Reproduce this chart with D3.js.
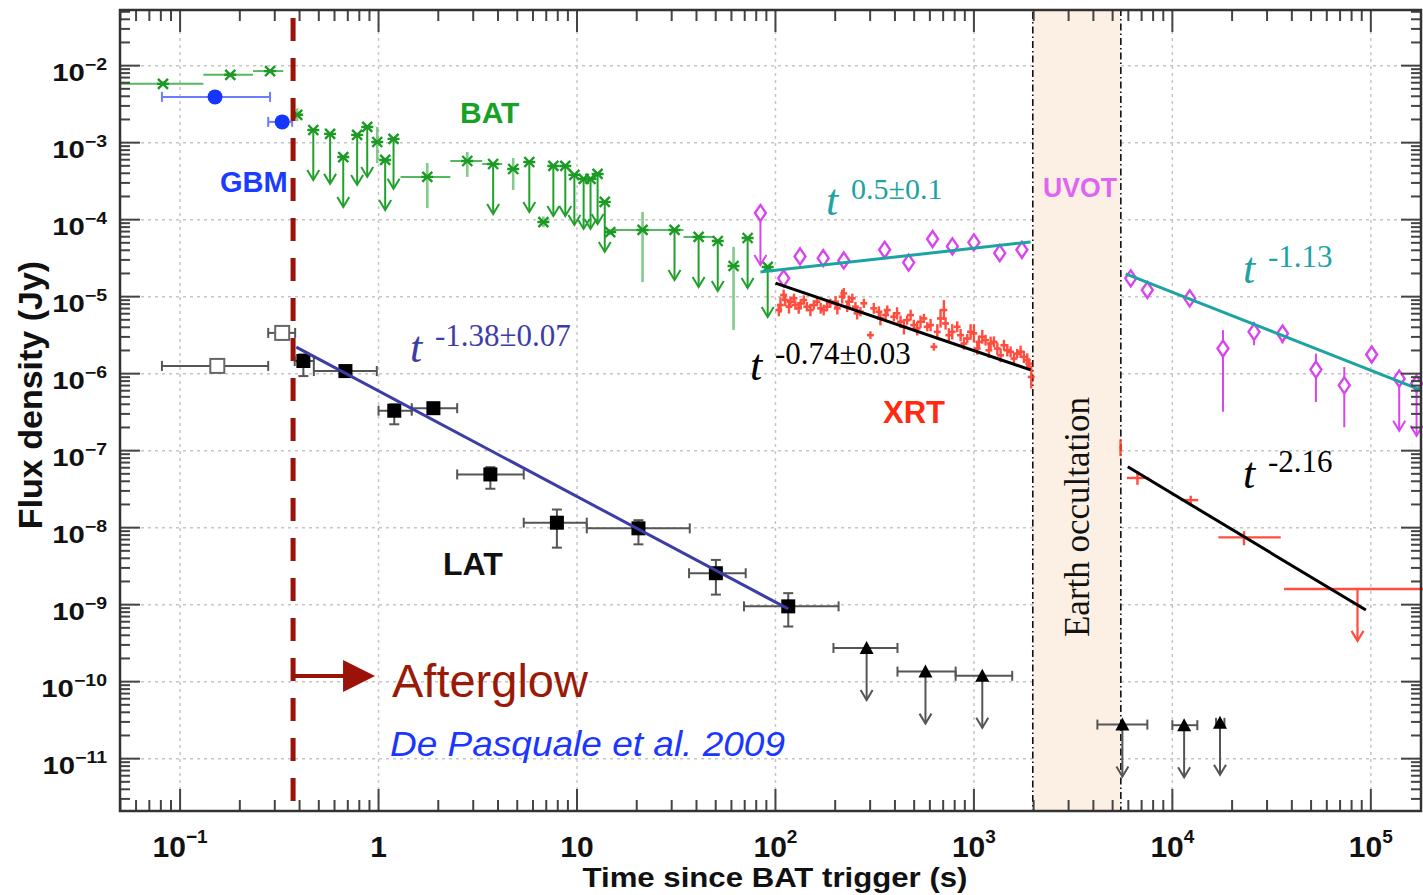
<!DOCTYPE html>
<html><head><meta charset="utf-8">
<script src="https://cdnjs.cloudflare.com/ajax/libs/d3/7.8.5/d3.min.js"></script>
<style>body{margin:0;background:#fff}svg{display:block}</style>
</head><body>
<svg id="c" width="1423" height="895"></svg>
<script>
// ---------------- data ----------------
const xTickVals = [1e-1, 1, 10, 1e2, 1e3, 1e4, 1e5];
const xTickBase = ["10", "1", "10", "10", "10", "10", "10"];
const xTickExp  = ["\u22121", "", "", "2", "3", "4", "5"];
const yTickVals = [1e-2, 1e-3, 1e-4, 1e-5, 1e-6, 1e-7, 1e-8, 1e-9, 1e-10, 1e-11];
const yTickExp  = ["\u22122","\u22123","\u22124","\u22125","\u22126","\u22127","\u22128","\u22129","\u221210","\u221211"];

// BAT
const batT   = [0.082,0.179,0.284,0.389,0.469,0.570,0.664,0.780,0.877,0.985,1.08,1.19,1.76,2.80,3.78,4.77,5.75,6.77,7.60,8.73,9.70,10.8,11.7,12.7,13.8,14.7,21.4,31.0,41.0,51.2,61.5,72.4,91.4];
const batTlo = [0.05,0.131,0.233,0.372,0.455,0.555,0.645,0.765,0.862,0.965,1.055,1.16,1.29,2.30,3.33,4.55,5.55,6.55,7.45,8.55,9.50,10.5,11.4,12.4,13.5,13.9,15.3,29.6,34.4,48.7,58.0,69.0,87.0];
const batThi = [0.131,0.233,0.331,0.41,0.485,0.585,0.685,0.795,0.892,1.005,1.105,1.22,2.30,3.33,4.20,5.00,5.95,7.00,7.80,8.95,9.90,11.1,12.0,13.0,14.1,15.3,29.6,34.4,48.7,54.0,65.0,76.0,96.0];
const batF   = [5.8e-3,7.6e-3,8.5e-3,2.3e-3,1.46e-3,1.30e-3,6.5e-4,1.26e-3,1.60e-3,1.02e-3,5.96e-4,1.12e-3,3.59e-4,5.78e-4,5.28e-4,4.55e-4,5.61e-4,9.3e-5,4.98e-4,4.98e-4,3.81e-4,3.38e-4,3.38e-4,3.92e-4,1.70e-4,6.9e-5,7.35e-5,7.35e-5,5.96e-5,5.28e-5,2.50e-5,5.78e-5,2.43e-5];
const batFlo = [5.4e-3,7.1e-3,8.0e-3,1.9e-3,null,null,null,null,null,5.4e-4,null,null,1.41e-4,3.59e-4,null,2.43e-4,null,8.0e-5,null,null,null,null,null,null,null,6.3e-5,1.55e-5,null,null,null,3.7e-6,null,null];
const batFhi = [6.3e-3,8.1e-3,9.0e-3,2.8e-3,null,null,null,null,null,1.6e-3,null,null,5.45e-4,7.57e-4,null,6.32e-4,null,1.1e-4,null,null,null,null,null,null,null,7.6e-5,1.26e-4,null,null,null,4.43e-5,null,null];
const batUL  = [0,0,0,0,1,1,1,1,1,0,1,1,0,0,1,0,1,0,1,1,1,1,1,1,1,0,0,1,1,1,0,1,1];

// GBM
const gbmT   = [0.150, 0.327];
const gbmTlo = [0.081, 0.278];
const gbmThi = [0.284, 0.367];
const gbmF   = [3.93e-3, 1.86e-3];

// LAT detections
const latT    = [0.154,0.327,0.418,0.681,1.20,1.89,3.66,7.92,20.4,50.1,116];
const latTlo  = [0.081,0.278,0.378,0.472,1.0,1.47,2.49,5.39,11.2,36.7,69.4];
const latThi  = [0.278,0.38,0.472,0.98,1.47,2.49,5.39,11.2,37.0,70.8,208];
const latF    = [1.26e-6,3.38e-6,1.46e-6,1.08e-6,3.30e-7,3.56e-7,4.91e-8,1.16e-8,9.8e-9,2.56e-9,9.5e-10];
const latFlo  = [1.26e-6,3.38e-6,9.3e-7,1.0e-6,2.2e-7,3.2e-7,3.2e-8,5.5e-9,6.07e-9,1.35e-9,5.2e-10];
const latFhi  = [1.26e-6,3.38e-6,1.78e-6,1.15e-6,4.0e-7,3.9e-7,6.1e-8,1.72e-8,1.25e-8,3.81e-9,1.41e-9];
const latOpen = [1,1,0,0,0,0,0,0,0,0,0];
// LAT upper limits
const latUlT   = [288, 570, 1102, 5600, 11460, 17380];
const latUlTlo = [196, 412, 809, 4190, 10000, 16600];
const latUlThi = [412, 809, 1560, 7480, 13360, 18300];
const latUlF   = [2.74e-10, 1.35e-10, 1.19e-10, 2.77e-11, 2.72e-11, 2.92e-11];

// XRT (early, dense)
const xrtT = [106,112,119,126,134,144,156,169,182,201,217,234,253,268,301,332,359,395,427,461,498,538,582,629,679,720,778,857,926,1000,1060,1145,1214,1312,1417,1531,1653,1786,1892,1945,
              104,110,117,124,131,139,150,162,175,189,205,221,230,244,258,279,313,338,366,410,444,480,518,560,605,654,706,748,824,891,962,1040,1102,1191,1262,1363,1473,1592,1719,1858];
const xrtF = [7.79e-6,9.05e-6,8.61e-6,7.79e-6,8.19e-6,7.41e-6,7.79e-6,7.05e-6,7.41e-6,8.61e-6,1.0e-5,8.61e-6,7.41e-6,6.37e-6,3.16e-6,6.37e-6,5.77e-6,5.48e-6,4.72e-6,4.96e-6,4.27e-6,4.72e-6,4.06e-6,2.23e-6,5.21e-6,4.49e-6,3.49e-6,3.16e-6,2.86e-6,3.33e-6,2.59e-6,2.72e-6,2.46e-6,2.12e-6,2.34e-6,1.92e-6,1.82e-6,1.65e-6,1.35e-6,9.06e-7,
              6.70e-6,1.05e-5,7.41e-6,9.51e-6,7.05e-6,9.05e-6,6.70e-6,8.61e-6,6.70e-6,8.19e-6,7.05e-6,1.10e-5,7.41e-6,9.51e-6,6.07e-6,8.19e-6,7.05e-6,5.21e-6,6.70e-6,6.07e-6,4.06e-6,5.77e-6,3.86e-6,5.21e-6,4.27e-6,3.49e-6,6.70e-6,3.16e-6,4.06e-6,2.46e-6,3.49e-6,2.12e-6,3.01e-6,2.01e-6,2.59e-6,1.73e-6,2.01e-6,1.57e-6,1.92e-6,1.49e-6];
const xrtE = [0.10,0.08,0.07,0.06,0.05,0.06,0.06,0.07,0.06,0.07,0.09,0.08,0.06,0.06,0.05,0.07,0.06,0.06,0.08,0.06,0.07,0.08,0.06,0.05,0.12,0.08,0.10,0.08,0.06,0.12,0.08,0.07,0.09,0.08,0.07,0.07,0.06,0.08,0.07,0.15,
              0.08,0.07,0.09,0.06,0.07,0.06,0.08,0.06,0.07,0.06,0.08,0.07,0.07,0.06,0.08,0.06,0.07,0.09,0.06,0.08,0.10,0.07,0.09,0.06,0.08,0.10,0.13,0.09,0.07,0.08,0.10,0.08,0.09,0.10,0.07,0.09,0.08,0.07,0.08,0.09];
// XRT (late)
const xrT2   = [5480, 6670, 12370, 22960, 85700];
const xrT2lo = [5400, 5900, 11000, 17060, 36560];
const xrT2hi = [5560, 7600, 13500, 35160, 190000];
const xrF2   = [1.10e-7, 4.42e-8, 2.28e-8, 7.48e-9, 1.6e-9];
const xrF2lo = [8.5e-8, 3.6e-8, 1.95e-8, 5.9e-9, null];
const xrF2hi = [1.4e-7, 5.4e-8, 2.6e-8, 9.0e-9, null];
const xrUL2  = [0,0,0,0,1];

// UVOT
const uvT   = [84,110,133,174,221,355,469,619,779,1000,1349,1745,6170,7480,12230,17990,25800,35900,52900,73500,101000,139000,170000];
const uvF   = [1.22e-4,1.73e-5,3.33e-5,3.16e-5,2.95e-5,4.06e-5,2.77e-5,5.60e-5,4.49e-5,5.06e-5,3.67e-5,4.06e-5,1.73e-5,1.22e-5,9.5e-6,2.12e-6,3.49e-6,3.32e-6,1.13e-6,7.05e-7,1.77e-6,8.6e-7,7.4e-7];
const uvFlo = [null,1.55e-5,3.0e-5,2.85e-5,2.65e-5,3.7e-5,2.5e-5,5.1e-5,4.1e-5,4.6e-5,3.35e-5,3.7e-5,1.55e-5,1.1e-5,8.4e-6,3.2e-7,2.34e-6,2.46e-6,4.27e-7,2.01e-7,1.6e-6,null,null];
const uvFhi = [null,1.92e-5,3.7e-5,3.5e-5,3.25e-5,4.45e-5,3.05e-5,6.1e-5,4.9e-5,5.55e-5,4.0e-5,4.45e-5,1.9e-5,1.35e-5,1.07e-5,3.67e-6,4.72e-6,4.27e-6,1.82e-6,1.22e-6,1.95e-6,null,null];
const uvUL  = [1,0,0,0,0,0,0,0,0,0,0,0,0,0,0,0,0,0,0,0,0,1,1];

// power-law fits
const fitT0 = [0.385, 84, 100, 5820, 5960];
const fitT1 = [116, 1930, 1930, 179000, 94400];
const fitF0 = [2.21e-6, 2.09e-5, 1.5e-5, 1.98e-5, 6.18e-8];
const fitF1 = [8.8e-10, 5.13e-5, 1.12e-6, 6.1e-7, 8.5e-10];
const fitColor = ["#3d3da6", "#1ea3a3", "#000000", "#1ea3a3", "#000000"];

// Earth occultation interval & afterglow start
const occT = [1980, 5500];
const afterglowT = 0.371;

// ---------------- drawing ----------------
const L = 120, R = 1421, T = 10, B = 811;
const svg = d3.select("#c");
const x = d3.scaleLog().domain([0.0498, 1.79e5]).range([L, R]);
const y = d3.scaleLog().domain([2.09e-12, 5.28e-2]).range([B, T]);
const SANS = "'Liberation Sans', Arial, Helvetica, sans-serif";
const SERIF = "'Liberation Serif', 'Times New Roman', Times, serif";

const defs = svg.append("defs");
defs.append("filter").attr("id", "soft").attr("x", "-20%").attr("y", "-20%").attr("width", "140%").attr("height", "140%")
  .append("feGaussianBlur").attr("stdDeviation", 0.7);

svg.append("rect").attr("width", 1423).attr("height", 895).attr("fill", "#fff");

// grid
const grid = svg.append("g").attr("stroke", "#c6c6c6").attr("stroke-width", 1.5).attr("stroke-dasharray", "3,4");
yTickVals.forEach(v => grid.append("line").attr("x1", L).attr("x2", R).attr("y1", y(v)).attr("y2", y(v)));
xTickVals.forEach(v => grid.append("line").attr("y1", T).attr("y2", B).attr("x1", x(v)).attr("x2", x(v)));

// Earth occultation band
svg.append("rect").attr("x", x(occT[0])).attr("y", T).attr("width", x(occT[1]) - x(occT[0])).attr("height", B - T)
  .attr("fill", "#fcf0e4").attr("stroke", "#111").attr("stroke-width", 1.6).attr("stroke-dasharray", "7,3,1.5,3");
svg.append("text").attr("transform", `translate(${(x(occT[0]) + x(occT[1])) / 2 + 12},517) rotate(-90)`)
  .attr("text-anchor", "middle").attr("font-family", SERIF).attr("font-size", 35).attr("fill", "#111").text("Earth occultation");

const data = svg.append("g");

function arrowDown(g, cx, cy, len, color, w) {
  g.append("line").attr("x1", cx).attr("x2", cx).attr("y1", cy).attr("y2", cy + len).attr("stroke", color).attr("stroke-width", w);
  g.append("path").attr("d", `M${cx - 6},${cy + len - 10}L${cx},${cy + len}L${cx + 6},${cy + len - 10}`)
    .attr("fill", "none").attr("stroke", color).attr("stroke-width", w);
}
function hbar(g, t0, t1, f, color, w, caps) {
  g.append("line").attr("x1", x(t0)).attr("x2", x(t1)).attr("y1", y(f)).attr("y2", y(f)).attr("stroke", color).attr("stroke-width", w);
  if (caps) [t0, t1].forEach(t => g.append("line").attr("x1", x(t)).attr("x2", x(t)).attr("y1", y(f) - 5).attr("y2", y(f) + 5).attr("stroke", color).attr("stroke-width", w));
}
function vbar(g, t, f0, f1, color, w, caps) {
  g.append("line").attr("x1", x(t)).attr("x2", x(t)).attr("y1", y(f0)).attr("y2", y(f1)).attr("stroke", color).attr("stroke-width", w);
  if (caps) [f0, f1].forEach(f => g.append("line").attr("x1", x(t) - 5).attr("x2", x(t) + 5).attr("y1", y(f)).attr("y2", y(f)).attr("stroke", color).attr("stroke-width", w));
}

// XRT early
const gx = data.append("g").attr("opacity", 0.9).attr("filter", "url(#soft)");
xrtT.forEach((t, i) => {
  hbar(gx, t * 0.96, t * 1.04, xrtF[i], "#ff3a2a", 2.6, false);
  vbar(gx, t, xrtF[i] / Math.pow(10, xrtE[i]), xrtF[i] * Math.pow(10, xrtE[i]), "#ff3a2a", 2.4, false);
});
// XRT late
const gx2 = data.append("g").attr("opacity", 0.9);
xrT2.forEach((t, i) => {
  hbar(gx2, xrT2lo[i], xrT2hi[i], xrF2[i], "#ff3a2a", 2.4, false);
  if (xrUL2[i]) arrowDown(gx2, x(t), y(xrF2[i]), 52, "#ff3a2a", 2.2);
  else vbar(gx2, t, xrF2lo[i], xrF2hi[i], "#ff3a2a", 2.4, false);
});

// BAT
const gb = data.append("g");
batT.forEach((t, i) => {
  hbar(gb, batTlo[i], batThi[i], batF[i], "rgba(30,160,40,0.75)", 2, false);
  if (batUL[i]) arrowDown(gb, x(t), y(batF[i]), 50, "#22a02c", 2);
  else vbar(gb, t, batFlo[i], batFhi[i], "rgba(30,160,40,0.55)", 2.6, false);
  const cx = x(t), cy = y(batF[i]);
  gb.append("path").attr("d", `M${cx - 5},${cy - 5}L${cx + 5},${cy + 5}M${cx - 5},${cy + 5}L${cx + 5},${cy - 5}M${cx - 6},${cy}L${cx + 6},${cy}`)
    .attr("stroke", "#1c9a26").attr("stroke-width", 2.4).attr("fill", "none");
});

// GBM
const gg = data.append("g");
gbmT.forEach((t, i) => {
  hbar(gg, gbmTlo[i], gbmThi[i], gbmF[i], "#6b7cff", 2, true);
  gg.append("circle").attr("cx", x(t)).attr("cy", y(gbmF[i])).attr("r", 7.5).attr("fill", "#1436ff");
});

// LAT
const gl = data.append("g");
latT.forEach((t, i) => {
  hbar(gl, latTlo[i], latThi[i], latF[i], "#555", 2, true);
  if (latFlo[i] !== latFhi[i]) vbar(gl, t, latFlo[i], latFhi[i], "#555", 2, true);
  const cx = x(t), cy = y(latF[i]);
  if (latOpen[i]) gl.append("rect").attr("x", cx - 7).attr("y", cy - 7).attr("width", 14).attr("height", 14).attr("fill", "#fff").attr("stroke", "#666").attr("stroke-width", 2);
  else gl.append("rect").attr("x", cx - 7).attr("y", cy - 7).attr("width", 14).attr("height", 14).attr("fill", "#000");
});
latUlT.forEach((t, i) => {
  hbar(gl, latUlTlo[i], latUlThi[i], latUlF[i], "#555", 2, true);
  arrowDown(gl, x(t), y(latUlF[i]), 52, "#555", 2);
  const cx = x(t), cy = y(latUlF[i]);
  gl.append("path").attr("d", `M${cx - 7},${cy + 6}L${cx + 7},${cy + 6}L${cx},${cy - 7}Z`).attr("fill", "#000");
});

// UVOT
const gu = data.append("g");
uvT.forEach((t, i) => {
  const cx = x(t), cy = y(uvF[i]);
  if (uvUL[i]) arrowDown(gu, cx, cy, 52, "#d845ef", 2);
  else vbar(gu, t, uvFlo[i], uvFhi[i], "#d845ef", 2, false);
  gu.append("path").attr("d", `M${cx},${cy - 8}L${cx + 5.5},${cy}L${cx},${cy + 8}L${cx - 5.5},${cy}Z`)
    .attr("fill", "#fff").attr("stroke", "#d845ef").attr("stroke-width", 2.4);
});

// fits
fitT0.forEach((t, i) => {
  svg.append("line").attr("x1", x(t)).attr("y1", y(fitF0[i])).attr("x2", x(fitT1[i])).attr("y2", y(fitF1[i]))
    .attr("stroke", fitColor[i]).attr("stroke-width", 3);
});

// afterglow dashed line + arrow
const ax = x(afterglowT);
svg.append("line").attr("x1", ax).attr("x2", ax).attr("y1", 18).attr("y2", 803)
  .attr("stroke", "#9a1208").attr("stroke-width", 5).attr("stroke-dasharray", "23,17");
svg.append("line").attr("x1", ax).attr("x2", ax + 55).attr("y1", 676).attr("y2", 676).attr("stroke", "#9a1208").attr("stroke-width", 4);
svg.append("path").attr("d", `M${ax + 50},660L${ax + 82},676L${ax + 50},692Z`).attr("fill", "#9a1208");

// labels
function lab(txt, xx, yy, size, color, opts = {}) {
  const t = svg.append("text").attr("x", xx).attr("y", yy).attr("font-family", opts.family || SANS)
    .attr("font-size", size).attr("fill", color).attr("font-weight", opts.weight || "bold").text(txt);
  if (opts.italic) t.attr("font-style", "italic");
  if (opts.len) t.attr("textLength", opts.len).attr("lengthAdjust", "spacingAndGlyphs");
  return t;
}
lab("BAT", 460, 123, 30, "#17a226");
lab("GBM", 220, 192, 29, "#1a3cff");
lab("LAT", 443, 575, 32, "#111");
lab("XRT", 883, 423, 31, "#ff2a10");
lab("UVOT", 1043, 197, 27, "#e064f2", {len: 74});
lab("Afterglow", 392, 697, 47, "#9a1a08", {weight: "normal"});
lab("De Pasquale et al. 2009", 390, 756, 35, "#1a36ff", {weight: "normal", italic: true, len: 395});

function powlab(xx, yy, exp, color, expSize) {
  lab("t", xx, yy, 44, color, {family: SERIF, weight: "normal", italic: true});
  lab(exp, xx + 25, yy - 16, expSize, color, {family: SERIF, weight: "normal"});
}
powlab(826, 215, "0.5\u00b10.1", "#1ea3a3", 30);
powlab(410, 362, "-1.38\u00b10.07", "#3d3da6", 31);
powlab(750, 380, "-0.74\u00b10.03", "#000", 31);
powlab(1243, 283, "-1.13", "#1ea3a3", 31);
powlab(1243, 488, "-2.16", "#000", 31);

// axes frame + ticks
const ax2 = svg.append("g").attr("stroke", "#444").attr("stroke-width", 2);
const minorX = [], minorY = [];
for (let d = -2; d <= 5; d++) for (let m = 2; m <= 9; m++) { const v = m * Math.pow(10, d); if (v > 0.0498 && v < 1.79e5) minorX.push(v); }
for (let d = -12; d <= -2; d++) for (let m = 2; m <= 9; m++) { const v = m * Math.pow(10, d); if (v > 2.09e-12 && v < 5.28e-2) minorY.push(v); }
minorX.forEach(v => { ax2.append("line").attr("x1", x(v)).attr("x2", x(v)).attr("y1", B).attr("y2", B - 11);
  ax2.append("line").attr("x1", x(v)).attr("x2", x(v)).attr("y1", T).attr("y2", T + 11); });
xTickVals.forEach(v => { ax2.append("line").attr("x1", x(v)).attr("x2", x(v)).attr("y1", B).attr("y2", B - 22);
  ax2.append("line").attr("x1", x(v)).attr("x2", x(v)).attr("y1", T).attr("y2", T + 22); });
minorY.forEach(v => { ax2.append("line").attr("y1", y(v)).attr("y2", y(v)).attr("x1", L).attr("x2", L + 10);
  ax2.append("line").attr("y1", y(v)).attr("y2", y(v)).attr("x1", R).attr("x2", R - 10); });
yTickVals.forEach(v => { ax2.append("line").attr("y1", y(v)).attr("y2", y(v)).attr("x1", L).attr("x2", L + 20);
  ax2.append("line").attr("y1", y(v)).attr("y2", y(v)).attr("x1", R).attr("x2", R - 20); });
svg.append("rect").attr("x", L).attr("y", T).attr("width", R - L).attr("height", B - T).attr("fill", "none").attr("stroke", "#333").attr("stroke-width", 2.5);

// tick labels
xTickVals.forEach((v, i) => {
  const t = svg.append("text").attr("x", x(v)).attr("y", 857).attr("text-anchor", "middle")
    .attr("font-family", SANS).attr("font-weight", "bold").attr("font-size", 30).attr("fill", "#111");
  t.append("tspan").text(xTickBase[i]);
  if (xTickExp[i]) t.append("tspan").attr("dy", -14).attr("font-size", 19).text(xTickExp[i]);
});
yTickVals.forEach((v, i) => {
  const g = svg.append("g").attr("transform", `translate(107,${y(v) + 15}) scale(1.22,1)`);
  const t = g.append("text").attr("text-anchor", "end").attr("font-family", SANS).attr("font-weight", "bold")
    .attr("font-size", 24).attr("fill", "#111");
  t.append("tspan").text("10");
  t.append("tspan").attr("dy", -11).attr("font-size", 16).text(yTickExp[i]);
});

// axis titles
svg.append("text").attr("x", 775).attr("y", 887).attr("text-anchor", "middle").attr("font-family", SANS)
  .attr("font-weight", "bold").attr("font-size", 28).attr("fill", "#111")
  .attr("textLength", 385).attr("lengthAdjust", "spacingAndGlyphs").text("Time since BAT trigger (s)");
svg.append("text").attr("transform", "translate(42,395) rotate(-90)").attr("text-anchor", "middle").attr("font-family", SANS)
  .attr("font-weight", "bold").attr("font-size", 34).attr("fill", "#111").text("Flux density (Jy)");
</script>
</body></html>
